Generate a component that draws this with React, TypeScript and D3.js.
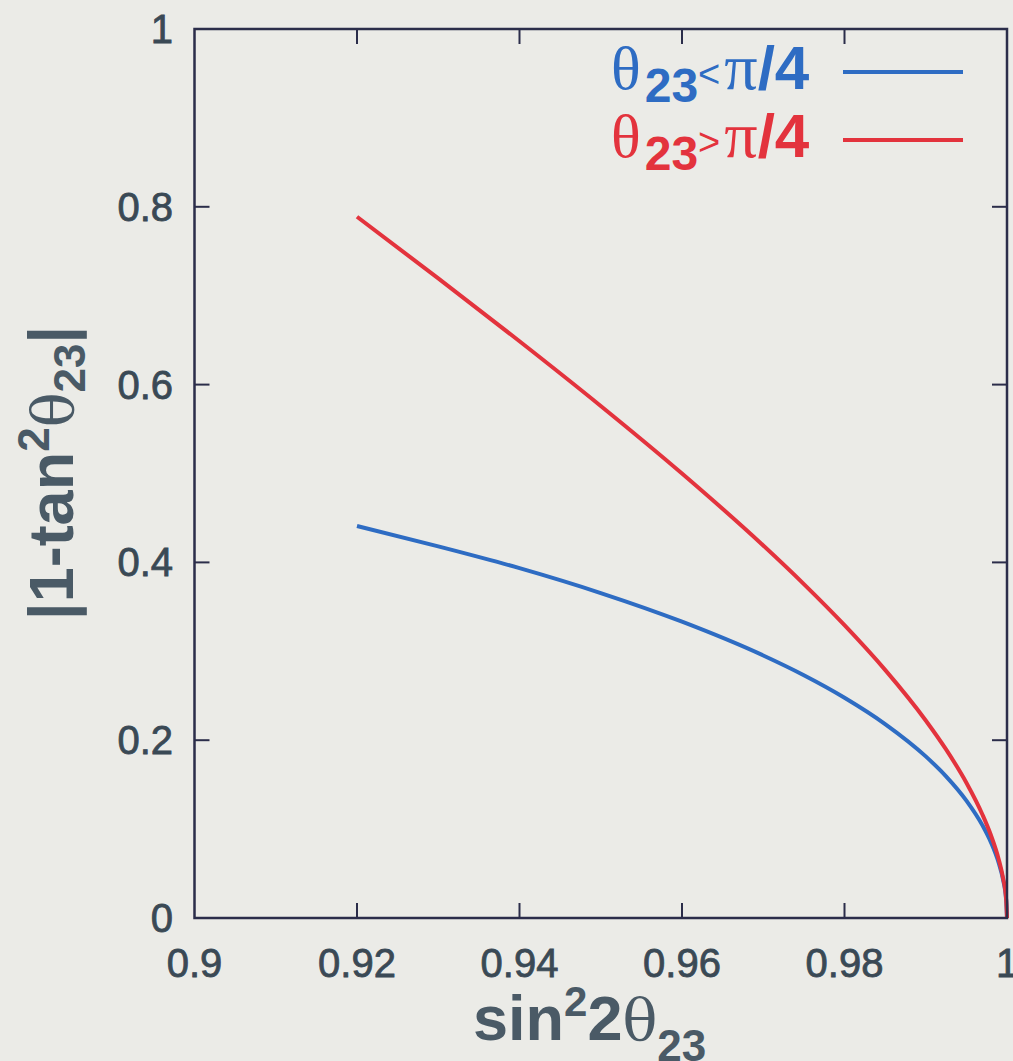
import React from "react";
import * as d3 from "d3";

// values
const sinVals = [0.92, 0.93, 0.94, 0.95, 0.96, 0.97, 0.975, 0.98, 0.985, 0.99, 0.9925, 0.995, 0.997, 0.998, 0.999, 0.9995, 0.9999, 1];
const lowerOctant = [0.441, 0.418, 0.3935, 0.3655, 0.3333, 0.2953, 0.2731, 0.2478, 0.2182, 0.1818, 0.1594, 0.1321, 0.1039, 0.0856, 0.0613, 0.0437, 0.0198, 0];
const upperOctant = [0.7888, 0.7195, 0.6488, 0.576, 0.5, 0.419, 0.3756, 0.3294, 0.2791, 0.2222, 0.1896, 0.1522, 0.1159, 0.0936, 0.0653, 0.0457, 0.0202, 0];
const xTicks = [0.9, 0.92, 0.94, 0.96, 0.98, 1];
const yTicks = [0, 0.2, 0.4, 0.6, 0.8, 1];

const width = 1013;
const height = 1061;
const left = 194.5;
const right = 1007;
const top = 29;
const bottom = 918;

const BLUE = "#2e6cc3";
const RED = "#e3333d";
const AXIS = "#2b2d4a";
const LABEL = "#3a4955";
const TITLE = "#4a5a66";
const sans = "'Liberation Sans', Arial, sans-serif";
const serif = "'Liberation Serif', 'DejaVu Serif', serif";
const wideSerif = "'DejaVu Serif', serif";

const App = () => {
  const x = d3.scaleLinear().domain([0.9, 1]).range([left, right]);
  const y = d3.scaleLinear().domain([0, 1]).range([bottom, top]);

  const line = d3
    .line<number>()
    .x((d, i) => x(sinVals[i]))
    .y(d => y(d))
    .curve(d3.curveMonotoneX);

  const tickLen = 15;
  const innerX = xTicks.filter(t => t > 0.9 && t < 1);
  const innerY = yTicks.filter(t => t > 0 && t < 1);

  return (
    <svg width={width} height={height} style={{ position: "absolute", left: 0, top: 0 }}>
      <rect x={0} y={0} width={width} height={height} fill="#ebebe7" />

      {/* curves */}
      <path d={line(lowerOctant) || ""} fill="none" stroke={BLUE} strokeWidth={4} />
      <path d={line(upperOctant) || ""} fill="none" stroke={RED} strokeWidth={4} />

      {/* frame */}
      <rect x={left} y={top} width={right - left} height={bottom - top} fill="none" stroke={AXIS} strokeWidth={2.5} />

      {/* ticks */}
      {innerX.map(t => (
        <g key={"xt" + t} stroke={AXIS} strokeWidth={2}>
          <line x1={x(t)} x2={x(t)} y1={bottom} y2={bottom - tickLen} />
          <line x1={x(t)} x2={x(t)} y1={top} y2={top + tickLen} />
        </g>
      ))}
      {innerY.map(t => (
        <g key={"yt" + t} stroke={AXIS} strokeWidth={2}>
          <line x1={left} x2={left + tickLen} y1={y(t)} y2={y(t)} />
          <line x1={right} x2={right - tickLen} y1={y(t)} y2={y(t)} />
        </g>
      ))}

      {/* tick labels */}
      {xTicks.map(t => (
        <text
          key={"xl" + t}
          x={x(t)}
          y={977}
          textAnchor="middle"
          fontFamily={sans}
          fontSize={40}
          fill={LABEL}
          stroke={LABEL}
          strokeWidth={0.8}
        >
          {d3.format("~g")(t)}
        </text>
      ))}
      {yTicks.map(t => (
        <text
          key={"yl" + t}
          x={173}
          y={y(t) + 14}
          textAnchor="end"
          fontFamily={sans}
          fontSize={40}
          fill={LABEL}
          stroke={LABEL}
          strokeWidth={0.8}
        >
          {d3.format("~g")(t)}
        </text>
      ))}

      {/* x title */}
      <text x={473} y={1040} fontFamily={sans} fontWeight="bold" fontSize={63} fill={TITLE}>
        sin
        <tspan fontSize={42} dy={-24}>2</tspan>
        <tspan dy={24}>2</tspan>
        <tspan fontFamily={wideSerif} fontWeight="normal" fontSize={58}>θ</tspan>
        <tspan fontSize={44} dy={21}>23</tspan>
      </text>

      {/* y title */}
      <text
        transform="translate(73,620) rotate(-90)"
        fontFamily={sans}
        fontWeight="bold"
        fontSize={63}
        fill={TITLE}
      >
        |1-tan
        <tspan fontSize={44} dy={-24}>2</tspan>
        <tspan dy={24} fontFamily={wideSerif} fontWeight="normal" fontSize={58}>θ</tspan>
        <tspan fontSize={44} dy={12}>23</tspan>
        <tspan dy={-12}>|</tspan>
      </text>

      {/* legend */}
      {[
        { color: BLUE, sign: "<", base: 89, ly: 72 },
        { color: RED, sign: ">", base: 157, ly: 140 },
      ].map(l => (
        <g key={l.sign}>
          <text x={611} y={l.base} fill={l.color} fontFamily={sans} fontSize={60}>
            <tspan fontFamily={serif} fontSize={62}>θ</tspan>
            <tspan fontWeight="bold" fontSize={48} dx={4} dy={13}>23</tspan>
            <tspan fontSize={38} dy={-15}>{l.sign}</tspan>
            <tspan fontFamily={serif} fontSize={66} dx={4} dy={2}>π</tspan>
            <tspan fontWeight="bold" fontSize={62}>/4</tspan>
          </text>
          <line x1={843} x2={963} y1={l.ly} y2={l.ly} stroke={l.color} strokeWidth={4} />
        </g>
      ))}
    </svg>
  );
};

export default App;
